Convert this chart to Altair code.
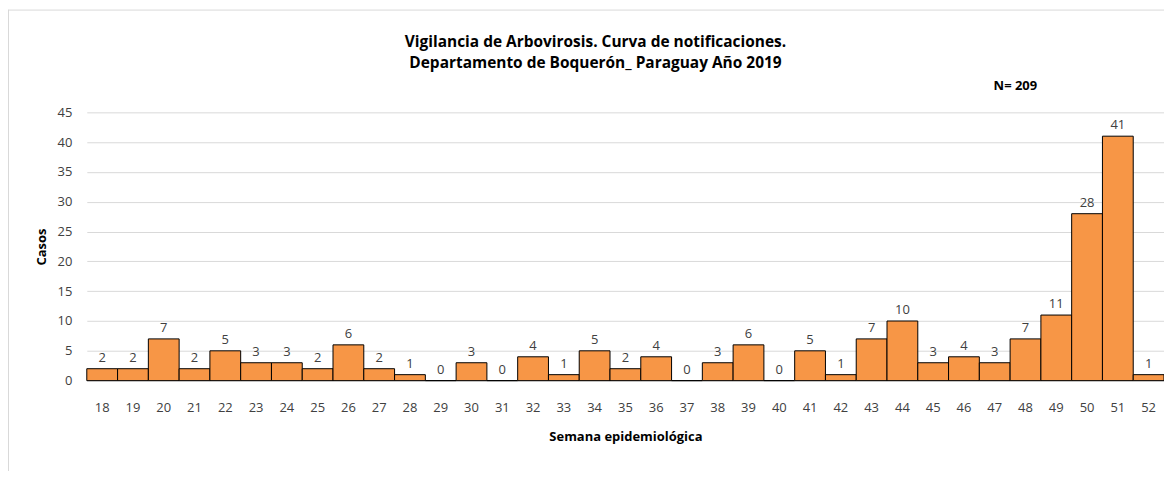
import altair as alt
import pandas as pd

weeks = [str(w) for w in range(18, 53)]
cases = [2, 2, 7, 2, 5, 3, 3, 2, 6, 2, 1, 0, 3, 0, 4, 1, 5, 2, 4, 0,
         3, 6, 0, 5, 1, 7, 10, 3, 4, 3, 7, 11, 28, 41, 1]
title_lines = ["Vigilancia de Arbovirosis. Curva de notificaciones.",
               "Departamento de Boquerón_ Paraguay Año 2019"]
note = ["N= 209"]

df = pd.DataFrame({"week": weeks, "cases": cases})
FONT = "Open Sans"
FS = 13

x = alt.X("week:O", sort=weeks,
          scale=alt.Scale(paddingInner=0, paddingOuter=0),
          axis=alt.Axis(title="Semana epidemiológica", labelAngle=0, ticks=False,
                        domainColor="#d9d9d9", labelPadding=21, titlePadding=16,
                        labelFontSize=FS, labelColor="#404040", titleFontSize=FS,
                        titleFontWeight="bold", titleColor="#000000", labelFont=FONT,
                        titleFont=FONT, grid=False))
y = alt.Y("cases:Q", scale=alt.Scale(domain=[0, 45], nice=False),
          axis=alt.Axis(title="Casos", values=list(range(0, 50, 5)), ticks=False,
                        domain=False, gridColor="#d9d9d9", labelPadding=15,
                        titlePadding=9, labelFontSize=FS, labelColor="#404040",
                        titleFontSize=FS, titleFontWeight="bold", titleColor="#000000",
                        labelFont=FONT, titleFont=FONT))

bars = alt.Chart(df).mark_bar(fill="#F79646", stroke="#000000", strokeWidth=1).encode(x=x, y=y)
labels = alt.Chart(df).mark_text(baseline="bottom", dy=-4, fontSize=FS, font=FONT,
                                 color="#404040").encode(x=x, y=y, text="cases:Q")

ndf = pd.DataFrame({"t": note})
ntext = alt.Chart(ndf).mark_text(fontSize=FS, fontWeight="bold", font=FONT,
                                 color="#000000").encode(
    text="t:N", x=alt.value(931), y=alt.value(-26))

tdf1 = pd.DataFrame({"t": title_lines[:1]})
tdf2 = pd.DataFrame({"t": title_lines[1:]})
t1 = alt.Chart(tdf1).mark_text(fontSize=15.5, fontWeight="bold", font=FONT,
                               color="#000000").encode(
    text="t:N", x=alt.value(510), y=alt.value(-70))
t2 = alt.Chart(tdf2).mark_text(fontSize=15.5, fontWeight="bold", font=FONT,
                               color="#000000").encode(
    text="t:N", x=alt.value(510), y=alt.value(-49))

leftb = alt.Chart(ndf).mark_rule(color="#d9d9d9", strokeWidth=1).encode(
    x=alt.value(-78.5), y=alt.value(-103), y2=alt.value(420))
topb = alt.Chart(ndf).mark_rule(color="#d9d9d9", strokeWidth=1).encode(
    x=alt.value(-78.5), x2=alt.value(1100), y=alt.value(-102.5))

chart = alt.layer(leftb, topb, bars, labels, ntext, t1, t2).properties(
    width=1080, height=269,
    autosize=alt.AutoSizeParams(type="none"),
    padding={"left": 79, "top": 104, "right": 0, "bottom": 90},
).configure_view(stroke=None)

chart.save("out.html", embed_options={"renderer": "svg", "actions": False})
